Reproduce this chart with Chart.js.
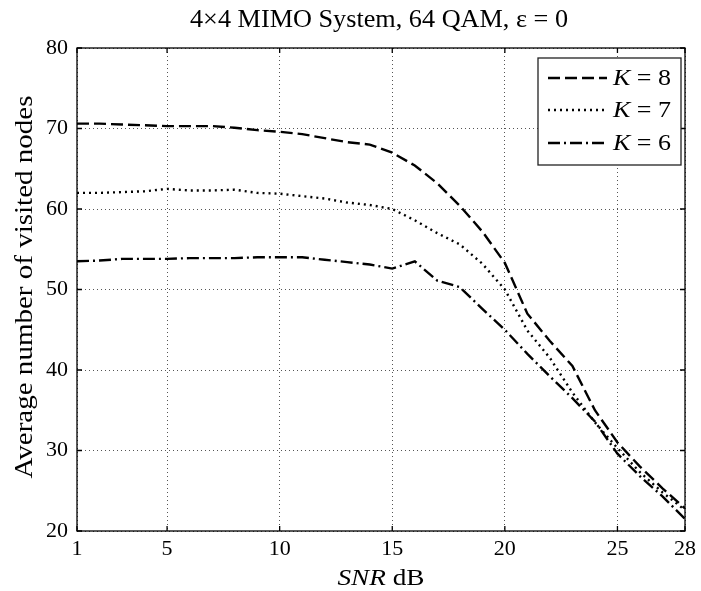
<!DOCTYPE html>
<html>
<head>
  <meta charset="utf-8" />
  <script src="https://cdn.jsdelivr.net/npm/chart.js@4.4.0/dist/chart.umd.min.js"></script>
  <style>
    body{margin:0;background:#fff;}
    #wrap{width:701px;height:591px;}
  </style>
</head>
<body>
<div id="wrap"><canvas id="chart" width="701" height="591"></canvas></div>
<script>
/* ---------- Data ---------- */
const snr = [1,2,3,4,5,6,7,8,9,10,11,12,13,14,15,16,17,18,19,20,21,22,23,24,25,26,27,28];
const k8 = [70.6,70.6,70.5,70.4,70.3,70.3,70.3,70.1,69.8,69.6,69.3,68.8,68.3,68.0,67.0,65.4,63.2,60.4,57.2,53.3,47.0,43.6,40.5,35.0,31.0,28.0,25.3,22.8];
const k7 = [62.0,62.0,62.1,62.2,62.5,62.3,62.3,62.4,62.0,61.9,61.6,61.3,60.8,60.5,60.0,58.6,57.0,55.6,53.2,50.0,44.9,41.5,37.2,33.5,30.3,27.3,24.8,22.6];
const k6 = [53.5,53.6,53.8,53.8,53.8,53.9,53.9,53.9,54.0,54.0,54.0,53.7,53.4,53.1,52.6,53.5,51.1,50.3,47.6,45.0,42.0,39.2,36.5,33.6,29.6,26.8,24.3,21.5];
const xTicks = [1,5,10,15,20,25,28];
const seriesNames = ['8','7','6'];

const SERIF = '"Liberation Serif", "Times New Roman", serif';

/* ---------- text helper: draws mixed italic/roman text stretched to a width ---------- */
function drawText(ctx, parts, x, y, size, targetW, align, rot){
  let w = 0;
  parts.forEach(p=>{
    ctx.font = (p.it ? 'italic ' : '') + size + 'px ' + SERIF;
    p.w = ctx.measureText(p.t).width; w += p.w;
  });
  const sx = targetW ? targetW / w : 1;
  ctx.save();
  ctx.translate(x, y);
  if(rot) ctx.rotate(rot);
  ctx.scale(sx, 1);
  ctx.textBaseline = 'middle'; ctx.textAlign = 'left'; ctx.fillStyle = '#000';
  let cx = align === 'left' ? 0 : -w/2;
  parts.forEach(p=>{
    ctx.font = (p.it ? 'italic ' : '') + size + 'px ' + SERIF;
    ctx.fillText(p.t, cx, 0); cx += p.w;
  });
  ctx.restore();
}

/* ---------- Box, inward ticks, legend, titles ---------- */
const deco = {
  id: 'deco',
  afterDraw(chart){
    const {ctx, chartArea:a, scales:{x, y}} = chart;
    ctx.save();
    ctx.setLineDash([]);
    ctx.strokeStyle = '#000'; ctx.lineWidth = 1.3;
    ctx.strokeRect(a.left, a.top, a.right - a.left, a.bottom - a.top);
    const TL = 5;
    ctx.beginPath();
    xTicks.forEach(v=>{
      const px = x.getPixelForValue(v);
      ctx.moveTo(px, a.bottom); ctx.lineTo(px, a.bottom - TL);
      ctx.moveTo(px, a.top); ctx.lineTo(px, a.top + TL);
    });
    for(let v=20; v<=80; v+=10){
      const py = y.getPixelForValue(v);
      ctx.moveTo(a.left, py); ctx.lineTo(a.left + TL, py);
      ctx.moveTo(a.right, py); ctx.lineTo(a.right - TL, py);
    }
    ctx.stroke();

    // legend
    const lx = 538, ly = 58, lw = 143, lh = 107;
    ctx.fillStyle = '#fff'; ctx.fillRect(lx, ly, lw, lh);
    ctx.strokeStyle = '#222'; ctx.lineWidth = 1.3; ctx.strokeRect(lx, ly, lw, lh);
    const rows = [78, 110, 143];
    chart.data.datasets.forEach((ds, i)=>{
      ctx.strokeStyle = '#000'; ctx.lineWidth = 2.4;
      ctx.setLineDash(ds.borderDash);
      ctx.beginPath(); ctx.moveTo(548, rows[i]); ctx.lineTo(607, rows[i]); ctx.stroke();
      ctx.setLineDash([]);
      drawText(ctx, [{t:'K', it:true}, {t:' = ' + seriesNames[i]}], 613, rows[i] + 1, 24, 58, 'left');
    });

    // titles
    drawText(ctx, [{t:'4\u00d74 MIMO System, 64 QAM, \u03b5 = 0'}], 379, 20, 25, 378);
    drawText(ctx, [{t:'SNR', it:true}, {t:' dB'}], (a.left + a.right)/2, 579, 24, 87);
    drawText(ctx, [{t:'Average number of visited nodes'}], 25, 287, 25, 383, 'center', -Math.PI/2);
    ctx.restore();
  }
};

const mk = (vals, dash, name) => ({
  label: 'K = ' + name,
  data: snr.map((s, i) => ({x: s, y: vals[i]})),
  borderColor: '#000',
  borderWidth: 2.4,
  borderDash: dash,
  pointRadius: 0,
  tension: 0,
  fill: false
});

new Chart(document.getElementById('chart').getContext('2d'), {
  type: 'line',
  data: {
    datasets: [
      mk(k8, [12, 5], seriesNames[0]),
      mk(k7, [2, 4], seriesNames[1]),
      mk(k6, [12, 4, 2, 4], seriesNames[2])
    ]
  },
  options: {
    responsive: false,
    animation: false,
    layout: { padding: { left: 0, right: 13, top: 48, bottom: 0 } },
    plugins: { legend: { display: false }, title: { display: false }, tooltip: { enabled: false } },
    scales: {
      x: {
        type: 'linear', min: 1, max: 28,
        afterBuildTicks: s => { s.ticks = xTicks.map(v => ({value: v})); },
        afterFit: s => { s.height = 60; },
        grid: { color: '#555', lineWidth: 1, drawTicks: false },
        border: { display: false, dash: [1, 3] },
        ticks: { color: '#000', padding: 5, font: { family: SERIF, size: 22 }, maxRotation: 0 }
      },
      y: {
        min: 20, max: 80,
        ticks: { stepSize: 10, color: '#000', padding: 9, font: { family: SERIF, size: 22 } },
        afterFit: s => { s.width = 77; },
        grid: { color: '#555', lineWidth: 1, drawTicks: false },
        border: { display: false, dash: [1, 3] }
      }
    }
  },
  plugins: [deco]
});
</script>
</body>
</html>
